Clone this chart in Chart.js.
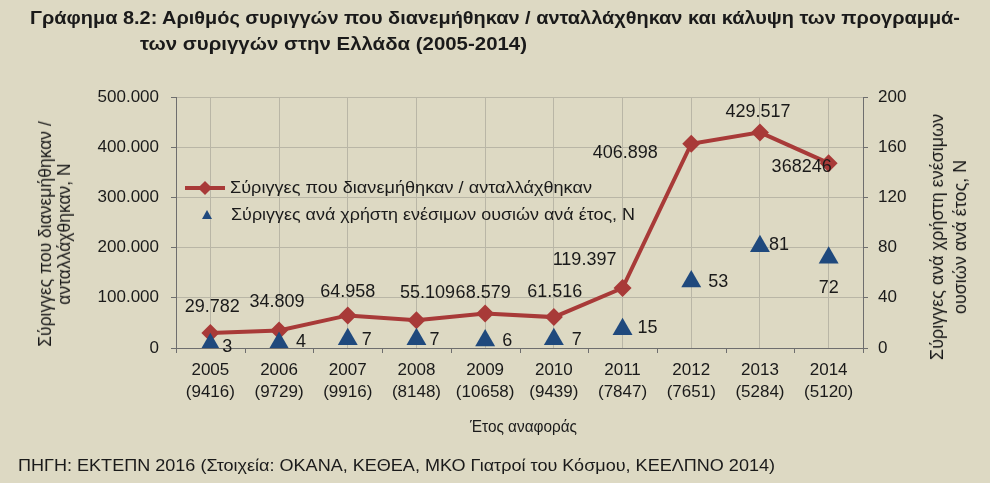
<!DOCTYPE html>
<html>
<head>
<meta charset="utf-8">
<script src="https://cdn.jsdelivr.net/npm/chart.js@4/dist/chart.umd.min.js"></script>
<style>
html,body{margin:0;padding:0;background:#DDD9C3;}
#wrap{position:relative;width:990px;height:483px;overflow:hidden;font-family:"Liberation Sans",Arial,sans-serif;color:#1a1a1a;}
#c{position:absolute;left:0;top:0;}
.t{position:absolute;white-space:nowrap;transform-origin:0 50%;}
.narrow{font-family:"Liberation Sans Narrow","Liberation Sans",Arial,sans-serif;}
.rot{position:absolute;white-space:nowrap;text-align:center;}
</style>
</head>
<body>
<div id="wrap">
<canvas id="c" width="990" height="483"></canvas>
<div class="t narrow" id="title1" style="left:30px;top:7px;font-size:19px;font-weight:bold;line-height:22px;">Γράφημα 8.2: Αριθμός συριγγών που διανεμήθηκαν / ανταλλάχθηκαν και κάλυψη των προγραμμά-</div>
<div class="t narrow" id="title2" style="left:140px;top:33px;font-size:19px;font-weight:bold;line-height:22px;">των συριγγών στην Ελλάδα (2005-2014)</div>
<div class="rot" id="ytitleL" style="left:55px;top:234px;font-size:17.5px;line-height:19px;transform:translate(-50%,-50%) rotate(-90deg);">Σύριγγες που διανεμήθηκαν /<br>ανταλλάχθηκαν, N</div>
<div class="rot" id="ytitleR" style="left:949px;top:237px;font-size:18px;line-height:23px;transform:translate(-50%,-50%) rotate(-90deg);">Σύριγγες ανά χρήστη ενέσιμων<br>ουσιών ανά έτος, N</div>
<div class="t narrow" id="xtitle" style="left:470px;top:417px;font-size:17px;line-height:20px;">Έτος αναφοράς</div>
<div class="t narrow" id="source" style="left:18px;top:456px;font-size:17px;line-height:20px;">ΠΗΓΗ: ΕΚΤΕΠΝ 2016 (Στοιχεία: ΟΚΑΝΑ, ΚΕΘΕΑ, ΜΚΟ Γιατροί του Κόσμου, ΚΕΕΛΠΝΟ 2014)</div>
<!-- legend -->
<div style="position:absolute;left:185px;top:186px;width:40px;height:4px;background:#A83A38;"></div>
<div style="position:absolute;left:200px;top:183px;width:10px;height:10px;background:#A83A38;transform:rotate(45deg);"></div>
<div class="t" id="leg1" style="left:230px;top:178px;font-size:17px;line-height:20px;">Σύριγγες που διανεμήθηκαν / ανταλλάχθηκαν</div>
<div style="position:absolute;left:202px;top:210px;width:0;height:0;border-left:5px solid transparent;border-right:5px solid transparent;border-bottom:9px solid #1F497D;"></div>
<div class="t" id="leg2" style="left:231px;top:205px;font-size:17px;line-height:20px;">Σύριγγες ανά χρήστη ενέσιμων ουσιών ανά έτος, N</div>
</div>
<script>
// ---- data ----
const years = ["2005","2006","2007","2008","2009","2010","2011","2012","2013","2014"];
const usersN = ["(9416)","(9729)","(9916)","(8148)","(10658)","(9439)","(7847)","(7651)","(5284)","(5120)"];
const syringes = [29782, 34809, 64958, 55109, 68579, 61516, 119397, 406898, 429517, 368246];
const syringeLabels = ["29.782","34.809","64.958","55.109","68.579","61.516","119.397","406.898","429.517","368246"];
const perUser = [3, 4, 7, 7, 6, 7, 15, 53, 81, 72];
const perUserLabels = ["3","4","7","7","6","7","15","53","81","72"];
const leftTicks = ["0","100.000","200.000","300.000","400.000","500.000"];
const rightTicks = ["0","40","80","120","160","200"];

// ---- styles ----
const RED = "#A83A38", BLUE = "#1F497D", GRID = "#B9B6A6", AXIS = "#6E6E6E", TXT = "#1a1a1a";
const FONT = '"Liberation Sans", Arial, sans-serif';
// label offsets (dx, dy) relative to each point
const redLabelOffsets = [[2,-26],[-2,-28],[0,-23],[11,-27],[-2,-21],[1,-25],[-38,-28],[-66,9],[-2,-20],[-27,4]];
const blueLabelOffsets = [[17,3],[22,-1],[19,1],[18,1],[22,1],[23,1],[25,-1],[27,1],[19,-1],[0,30]];

const overlay = {
  id: 'overlay',
  afterDatasetsDraw(chart) {
    const ctx = chart.ctx, xs = chart.scales.x, area = chart.chartArea;
    ctx.save();
    // category boundary tick marks below the x axis
    const step = (area.right - area.left) / years.length;
    ctx.strokeStyle = AXIS; ctx.lineWidth = 1;
    for (let i = 0; i <= years.length; i++) {
      const px = Math.round(xs.getPixelForValue(0) - step / 2 + i * step) + 0.5;
      ctx.beginPath(); ctx.moveTo(px, area.bottom); ctx.lineTo(px, area.bottom + 5); ctx.stroke();
    }
    // data labels
    ctx.fillStyle = TXT;
    ctx.font = '18px ' + FONT;
    ctx.textAlign = 'center'; ctx.textBaseline = 'middle';
    chart.getDatasetMeta(0).data.forEach((p, i) => {
      ctx.fillText(syringeLabels[i], p.x + redLabelOffsets[i][0], p.y + redLabelOffsets[i][1]);
    });
    chart.getDatasetMeta(1).data.forEach((p, i) => {
      ctx.fillText(perUserLabels[i], p.x + blueLabelOffsets[i][0], p.y + blueLabelOffsets[i][1]);
    });
    ctx.restore();
  }
};

new Chart(document.getElementById('c'), {
  type: 'line',
  data: {
    labels: years.map((y, i) => [y, usersN[i]]),
    datasets: [
      { label: "Σύριγγες που διανεμήθηκαν / ανταλλάχθηκαν", data: syringes, yAxisID: 'y',
        borderColor: RED, backgroundColor: RED, borderWidth: 4, tension: 0,
        pointStyle: 'rectRot', pointRadius: 9, pointHoverRadius: 9, pointBorderWidth: 0, order: 2 },
      { label: "Σύριγγες ανά χρήστη ενέσιμων ουσιών ανά έτος, N", data: perUser, yAxisID: 'y1',
        showLine: false, borderColor: BLUE, backgroundColor: BLUE,
        pointStyle: 'triangle', pointRadius: 11.5, pointHoverRadius: 11.5, pointBorderWidth: 0, order: 1 }
    ]
  },
  options: {
    responsive: false, animation: false, events: [],
    layout: { padding: { top: 97, left: 0, right: 0, bottom: 0 } },
    plugins: { legend: { display: false }, title: { display: false }, tooltip: { enabled: false } },
    scales: {
      x: {
        offset: true,
        grid: { offset: false, color: GRID, drawTicks: false },
        border: { color: AXIS, width: 1 },
        ticks: { font: { size: 17, family: FONT, lineHeight: 1.3 }, color: TXT, padding: 11, maxRotation: 0, autoSkip: false },
        afterFit(s) { s.height = 135; }
      },
      y: {
        position: 'left', min: 0, max: 500000,
        ticks: { stepSize: 100000, font: { size: 17, family: FONT }, color: TXT, padding: 12,
                 callback: (v, i) => leftTicks[i] },
        grid: { color: GRID, tickColor: AXIS, tickLength: 5 },
        border: { color: AXIS, width: 1 },
        afterFit(s) { s.width = 176; }
      },
      y1: {
        position: 'right', min: 0, max: 200,
        ticks: { stepSize: 40, font: { size: 17, family: FONT }, color: TXT, padding: 10,
                 callback: (v, i) => rightTicks[i] },
        grid: { drawOnChartArea: false, tickColor: AXIS, tickLength: 5 },
        border: { color: AXIS, width: 1 },
        afterFit(s) { s.width = 127; }
      }
    }
  },
  plugins: [overlay]
});

// fit text blocks to the widths they occupy in the reference
function fit(id, w) {
  const el = document.getElementById(id);
  const r = el.getBoundingClientRect().width;
  if (r > 0) el.style.transform = 'scaleX(' + (w / r) + ')';
}
fit('title1', 930); fit('title2', 387); fit('xtitle', 107); fit('source', 757);
fit('leg1', 362); fit('leg2', 404);
</script>
</body>
</html>
